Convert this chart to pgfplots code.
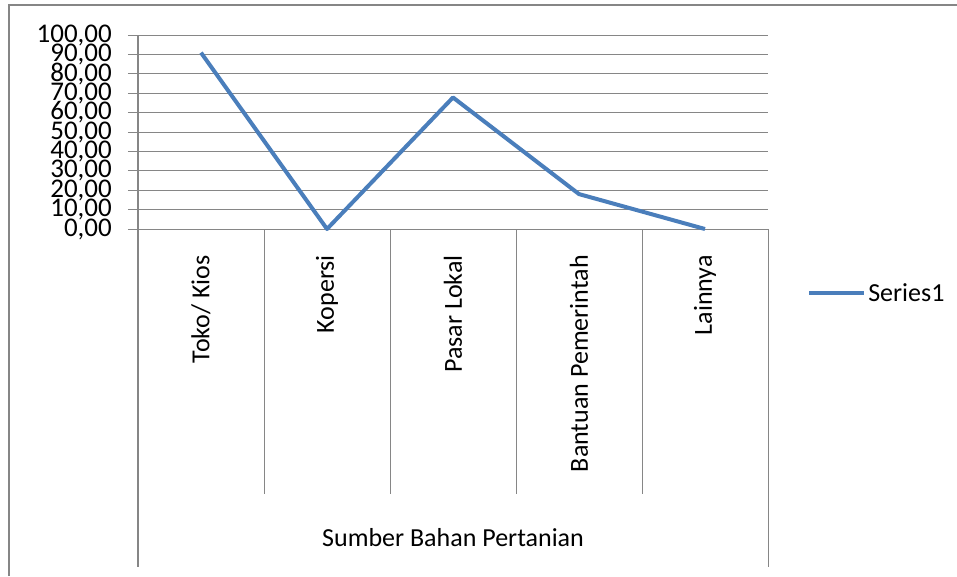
\documentclass[border=0pt]{standalone}
\usepackage{pgfplots}
\pgfplotsset{compat=1.18}
\usepackage{fontspec}
\setmainfont{Carlito}
\definecolor{gridc}{HTML}{868686}
\definecolor{ser}{HTML}{4A7EBB}
\begin{document}
\begin{tikzpicture}[x=1pt,y=1pt]
\useasboundingbox (0,0) rectangle (957,-576);
\draw[gridc, line width=2.4pt] (9,-576) -- (9,-5) -- (957,-5);
\begin{axis}[
 at={(138pt,-229pt)}, anchor=south west,
 scale only axis, width=630pt, height=194pt,
 xmin=0.5, xmax=5.5, ymin=0, ymax=100,
 clip=false,
 axis x line*=bottom, axis y line*=left,
 x axis line style={gridc, line width=1pt},
 y axis line style={gridc, line width=2pt},
 font=\fontsize{26}{26}\selectfont,
 xtick={1,2,3,4,5},
 xticklabels={Toko/ Kios, Kopersi, Pasar Lokal, Bantuan Pemerintah, Lainnya},
 x tick style={draw=none},
 xticklabel style={rotate=90, anchor=east, inner sep=0pt},
 xticklabel shift=16pt,
 ytick={0,10,...,100},
 y tick style={gridc, line width=1pt},
 tick align=outside, major tick length=10pt,
 ymajorgrids, grid style={gridc, line width=1pt},
 yticklabel style={inner sep=0pt, font=\fontsize{27}{27}\selectfont, /pgf/number format/fixed, /pgf/number format/fixed zerofill, /pgf/number format/precision=2, /pgf/number format/use comma, /pgf/number format/assume math mode=true},
 yticklabel shift=16pt,
 xlabel={Sumber Bahan Pertanian},
 xlabel style={at={(axis description cs:0.5,-1.588)}, anchor=center},
 legend style={draw=none, fill=none, at={(axis description cs:1.062,-0.33)}, anchor=west, inner sep=0pt, nodes={inner sep=2pt}},
 legend image code/.code={\draw[#1] (0pt,0pt) -- (55pt,0pt);},
]
\addplot[ser, line width=4pt, line join=round, mark=none] coordinates {(1,90.9) (2,0) (3,67.8) (4,18) (5,0)};
\addlegendentry{Series1}
\draw[gridc, line width=1pt] (axis cs:1.5,0) -- ([yshift=-265pt]axis cs:1.5,0);
\draw[gridc, line width=1pt] (axis cs:2.5,0) -- ([yshift=-265pt]axis cs:2.5,0);
\draw[gridc, line width=1pt] (axis cs:3.5,0) -- ([yshift=-265pt]axis cs:3.5,0);
\draw[gridc, line width=1pt] (axis cs:4.5,0) -- ([yshift=-265pt]axis cs:4.5,0);
\draw[gridc, line width=2pt] (axis cs:0.5,0) -- ([yshift=-338pt]axis cs:0.5,0);
\draw[gridc, line width=1pt] (axis cs:5.5,0) -- ([yshift=-338pt]axis cs:5.5,0);
\end{axis}
\end{tikzpicture}
\end{document}
